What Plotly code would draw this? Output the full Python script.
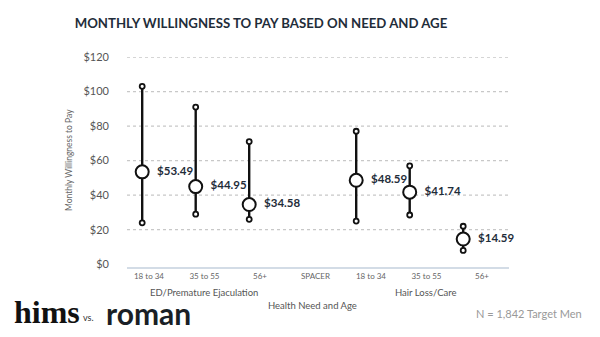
import plotly.graph_objects as go

# ---- data ----
tick_labels = ["18 to 34", "35 to 55", "56+", "SPACER", "18 to 34", "35 to 55", "56+"]
group_names = ["ED/Premature Ejaculation", "Hair Loss/Care"]
group_center_slot = [1, 5]
point_slots = [0, 1, 2, 4, 5, 6]
means = [53.49, 44.95, 34.58, 48.59, 41.74, 14.59]
highs = [103, 91, 71, 77, 57, 22]
lows = [24, 29, 26, 25, 28.5, 8]
y_ticks = [0, 20, 40, 60, 80, 100, 120]
y_tick_text = [f"${v}" for v in y_ticks]

W, H = 600, 337
L, R, T, B = 127, 91, 57, 70
PW, PH = W - L - R, H - T - B

def px(x):
    return (x - L) / PW

def py(y):
    return (H - B - y) / PH

INK = "#111111"
DARK = "#1f2d3a"
FONT = "Lato"

fig = go.Figure()

# vertical range lines
lx, ly = [], []
for s, lo, hi in zip(point_slots, lows, highs):
    lx += [s, s, None]
    ly += [lo, hi, None]
fig.add_trace(go.Scatter(x=lx, y=ly, mode="lines", line=dict(color=INK, width=2.4),
                         hoverinfo="skip", showlegend=False, cliponaxis=False))

# min / max small circles
fig.add_trace(go.Scatter(x=point_slots + point_slots, y=lows + highs, mode="markers",
                         marker=dict(size=5, color="white", line=dict(color=INK, width=1.8)),
                         showlegend=False, cliponaxis=False))

# mean big circles with labels
fig.add_trace(go.Scatter(x=point_slots, y=means, mode="markers+text",
                         marker=dict(size=13, color="white", line=dict(color=INK, width=2)),
                         text=[f"\u2002${v:.2f}" for v in means], textposition="middle right",
                         textfont=dict(family=FONT, size=11.5, color=DARK, weight="bold"),
                         showlegend=False, cliponaxis=False))

# invisible trace to anchor label axis
fig.add_trace(go.Scatter(x=list(range(len(tick_labels))), y=[0] * len(tick_labels),
                         xaxis="x2", mode="markers", marker=dict(opacity=0),
                         hoverinfo="skip", showlegend=False))

# dotted gridlines
for v in y_ticks[1:]:
    fig.add_shape(type="line", xref="paper", x0=0, x1=1, yref="y", y0=v, y1=v,
                  line=dict(color="#c8c8c8", width=1.3, dash="dot"), layer="below")

fig.update_layout(
    width=W, height=H,
    margin=dict(l=L, r=R, t=T, b=B),
    paper_bgcolor="white", plot_bgcolor="white",
    title=dict(text="MONTHLY WILLINGNESS TO PAY BASED ON NEED AND AGE",
               x=261 / W, xanchor="center", xref="container",
               y=1 - 23 / H, yanchor="middle", yref="container",
               font=dict(family=FONT, size=13.2, color=DARK, weight="bold")),
    xaxis=dict(range=[-0.284, 6.856], showticklabels=False, showgrid=False,
               zeroline=False, showline=False, fixedrange=True),
    xaxis2=dict(overlaying="x", side="bottom", range=[-0.396, 6.487],
                tickmode="array", tickvals=list(range(len(tick_labels))), ticktext=tick_labels,
                showgrid=False, zeroline=False, showline=True, linecolor="#d3dce6", linewidth=2,
                ticks="", ticklabelstandoff=0,
                tickfont=dict(family=FONT, size=8, color="#666666")),
    yaxis=dict(range=[-1.6, 120], tickmode="array", tickvals=y_ticks, ticktext=y_tick_text,
               showgrid=False, zeroline=False, showline=False, ticks="",
               ticklabelstandoff=17,
               tickfont=dict(family=FONT, size=11, color="#555555")),
    font=dict(family=FONT),
)

ann = []
ann.append(dict(text="Monthly Willingness to Pay", textangle=-90, xref="paper", yref="paper",
                x=px(69), y=py(160), xanchor="center", yanchor="middle", showarrow=False,
                font=dict(family=FONT, size=8.5, color="#666666")))
for name, slot in zip(group_names, group_center_slot):
    ann.append(dict(text=name, xref="x2", yref="paper", x=slot, y=py(292),
                    xanchor="center", yanchor="middle", showarrow=False,
                    font=dict(family=FONT, size=9.5, color="#555555")))
ann.append(dict(text="Health Need and Age", xref="paper", yref="paper", x=px(312), y=py(305.5),
                xanchor="center", yanchor="middle", showarrow=False,
                font=dict(family=FONT, size=9.5, color="#555555")))
ann.append(dict(text="N = 1,842 Target Men", xref="paper", yref="paper", x=px(528.5), y=py(313),
                xanchor="center", yanchor="middle", showarrow=False,
                font=dict(family=FONT, size=11, color="#999999")))
# logo
ann.append(dict(text="hims", xref="paper", yref="paper", x=px(12), y=py(312),
                xanchor="left", yanchor="middle", showarrow=False,
                font=dict(family="Liberation Serif", size=32, color="#111111", weight="bold")))
ann.append(dict(text="vs.", xref="paper", yref="paper", x=px(81), y=py(317),
                xanchor="left", yanchor="middle", showarrow=False,
                font=dict(family=FONT, size=9, color="#333333")))
ann.append(dict(text="roman", xref="paper", yref="paper", x=px(104), y=py(313),
                xanchor="left", yanchor="middle", showarrow=False,
                font=dict(family=FONT, size=30, color="#1a1f26", weight="bold")))
fig.update_layout(annotations=ann)

fig.write_html("out.html", config={"displayModeBar": False})
